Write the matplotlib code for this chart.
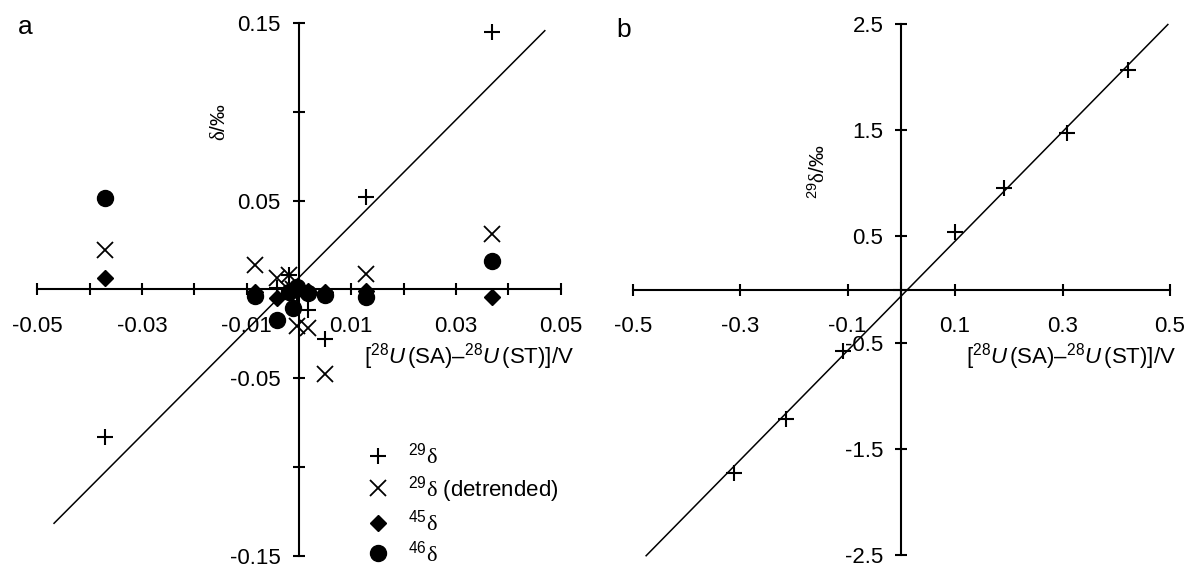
import matplotlib
matplotlib.use("Agg")
import matplotlib.pyplot as plt
from matplotlib.lines import Line2D
import numpy as np

plt.rcParams.update({
    "font.family": ["Liberation Sans", "DejaVu Sans"],
    "mathtext.fontset": "custom",
    "mathtext.rm": "Liberation Sans",
    "mathtext.it": "Liberation Sans:italic",
    "mathtext.sf": "Liberation Serif",     # upright serif delta, Symbol-font look
    "axes.unicode_minus": False,
})

# ---- panel a: delta values vs. intensity mismatch (V) ----
dU_a = [-0.037, -0.0083, -0.0042, -0.0019, -0.0011, -0.0003, 0.0017, 0.0049, 0.0128, 0.037]
d29 = [-0.083, -0.004, 0.001, 0.0082, 0.0, -0.002, -0.0115, -0.0278, 0.052, 0.145]
d29_detr = [0.0225, 0.0137, 0.0063, 0.0082, 0.0, -0.0206, -0.0219, -0.0478, 0.0086, 0.0311]
d45 = [0.0065, -0.0015, -0.0050, -0.0010, 0.0005, 0.0005, -0.0010, -0.0012, -0.0007, -0.0042]
d46 = [0.0516, -0.0035, -0.0172, -0.0012, -0.0106, 0.0016, -0.0021, -0.0031, -0.0044, 0.0161]

# ---- panel b: 29delta for large deliberate mismatches ----
dU_b = [-0.3123, -0.2148, -0.1087, 0.0, 0.0993, 0.1917, 0.3087, 0.4227]
d29_b = [-1.728, -1.215, -0.583, 0.0, 0.545, 0.952, 1.475, 2.066]

W, H = 1189, 570
FS = 16
TICK_LEN, TICK_W = 9, 1.5

D = r"$\mathsf{\delta}$"
XLABEL = r"[$^{28}\mathit{U}\,$(SA)–$^{28}\mathit{U}\,$(ST)]/V"


def px_axes(fig, x0, x1, ytop, ybot):
    return fig.add_axes([x0 / W, 1 - ybot / H, (x1 - x0) / W, (ybot - ytop) / H])


def cross_axes(ax):
    for s in ("top", "right"):
        ax.spines[s].set_visible(False)
    for s in ("left", "bottom"):
        ax.spines[s].set_position(("data", 0))
        ax.spines[s].set_linewidth(TICK_W)
    ax.tick_params(which="both", direction="inout", length=TICK_LEN, width=TICK_W,
                   labelsize=FS)
    ax.tick_params(axis="x", which="both", pad=14.5)
    ax.tick_params(axis="y", which="both", pad=8.5)
    ax.set_facecolor("none")


def fit_line(ax, x, y, xr):
    k, b = np.polyfit(x, y, 1)
    xx = np.array(xr)
    ax.plot(xx, k * xx + b, color="black", lw=1.1, zorder=1, clip_on=False)


fig = plt.figure(figsize=(W / 100, H / 100), dpi=100)

# panel a
ax = px_axes(fig, 37.3, 560.5, 23.2, 555.7)
ax.set_xlim(-0.05, 0.05)
ax.set_ylim(-0.15, 0.15)
cross_axes(ax)
xt = [-0.05, -0.03, -0.01, 0.01, 0.03, 0.05]
ax.set_xticks(xt)
ax.set_xticklabels([f"{v:g}" for v in xt])
ax.set_xticks([-0.04, -0.02, 0.0, 0.02, 0.04], minor=True)
yt = [-0.15, -0.05, 0.05, 0.15]
ax.set_yticks(yt)
ax.set_yticklabels([f"{v:g}" for v in yt])
ax.set_yticks([-0.1, 0.1], minor=True)

fit_line(ax, dU_a, d29, [-0.0468, 0.047])
ax.plot(dU_a, d29, ls="", marker="+", ms=12, mew=1.5, color="black", zorder=3)
ax.plot(dU_a, d29_detr, ls="", marker="x", ms=11, mew=1.3, color="black", zorder=3)
ax.plot(dU_a, d45, ls="", marker="D", ms=8, color="black", zorder=3)
ax.plot(dU_a, d46, ls="", marker="o", ms=11.5, color="black", zorder=3)

handles = [
    Line2D([], [], ls="", marker="+", ms=12, mew=1.5, color="black"),
    Line2D([], [], ls="", marker="x", ms=11, mew=1.3, color="black"),
    Line2D([], [], ls="", marker="D", ms=8, color="black"),
    Line2D([], [], ls="", marker="o", ms=11.5, color="black"),
]
labels = [r"$^{29}$" + D, r"$^{29}$" + D + " (detrended)", r"$^{45}$" + D, r"$^{46}$" + D]
fig.legend(handles, labels, loc="upper left", bbox_to_anchor=(365 / W, 1 - 443 / H),
           frameon=False, fontsize=FS, handlelength=1.2, handletextpad=0.75,
           labelspacing=0.22, borderaxespad=0, borderpad=0)

fig.text(220 / W, 1 - 122 / H, D + "/‰", rotation=90, fontsize=15,
         ha="center", va="center")
fig.text(364 / W, 1 - 357 / H, XLABEL, fontsize=FS, ha="left", va="center")
fig.text(24.8 / W, 1 - 27.5 / H, "a", fontsize=19, ha="center", va="center")

# panel b
bx = px_axes(fig, 632.7, 1170, 24, 555)
bx.set_xlim(-0.5, 0.5)
bx.set_ylim(-2.5, 2.5)
cross_axes(bx)
xt = [-0.5, -0.3, -0.1, 0.1, 0.3, 0.5]
bx.set_xticks(xt)
bx.set_xticklabels([f"{v:g}" for v in xt])
yt = [-2.5, -1.5, -0.5, 0.5, 1.5, 2.5]
bx.set_yticks(yt)
bx.set_yticklabels([f"{v:g}" for v in yt])

fit_line(bx, dU_b, d29_b, [-0.475, 0.496])
bx.plot(dU_b, d29_b, ls="", marker="+", ms=12, mew=1.5, color="black", zorder=3)

fig.text(818 / W, 1 - 172 / H, r"$^{29}$" + D + "/‰", rotation=90, fontsize=15,
         ha="center", va="center")
fig.text(966 / W, 1 - 357 / H, XLABEL, fontsize=FS, ha="left", va="center")
fig.text(624 / W, 1 - 30 / H, "b", fontsize=19, ha="center", va="center")

fig.savefig("out.png", dpi=100)
